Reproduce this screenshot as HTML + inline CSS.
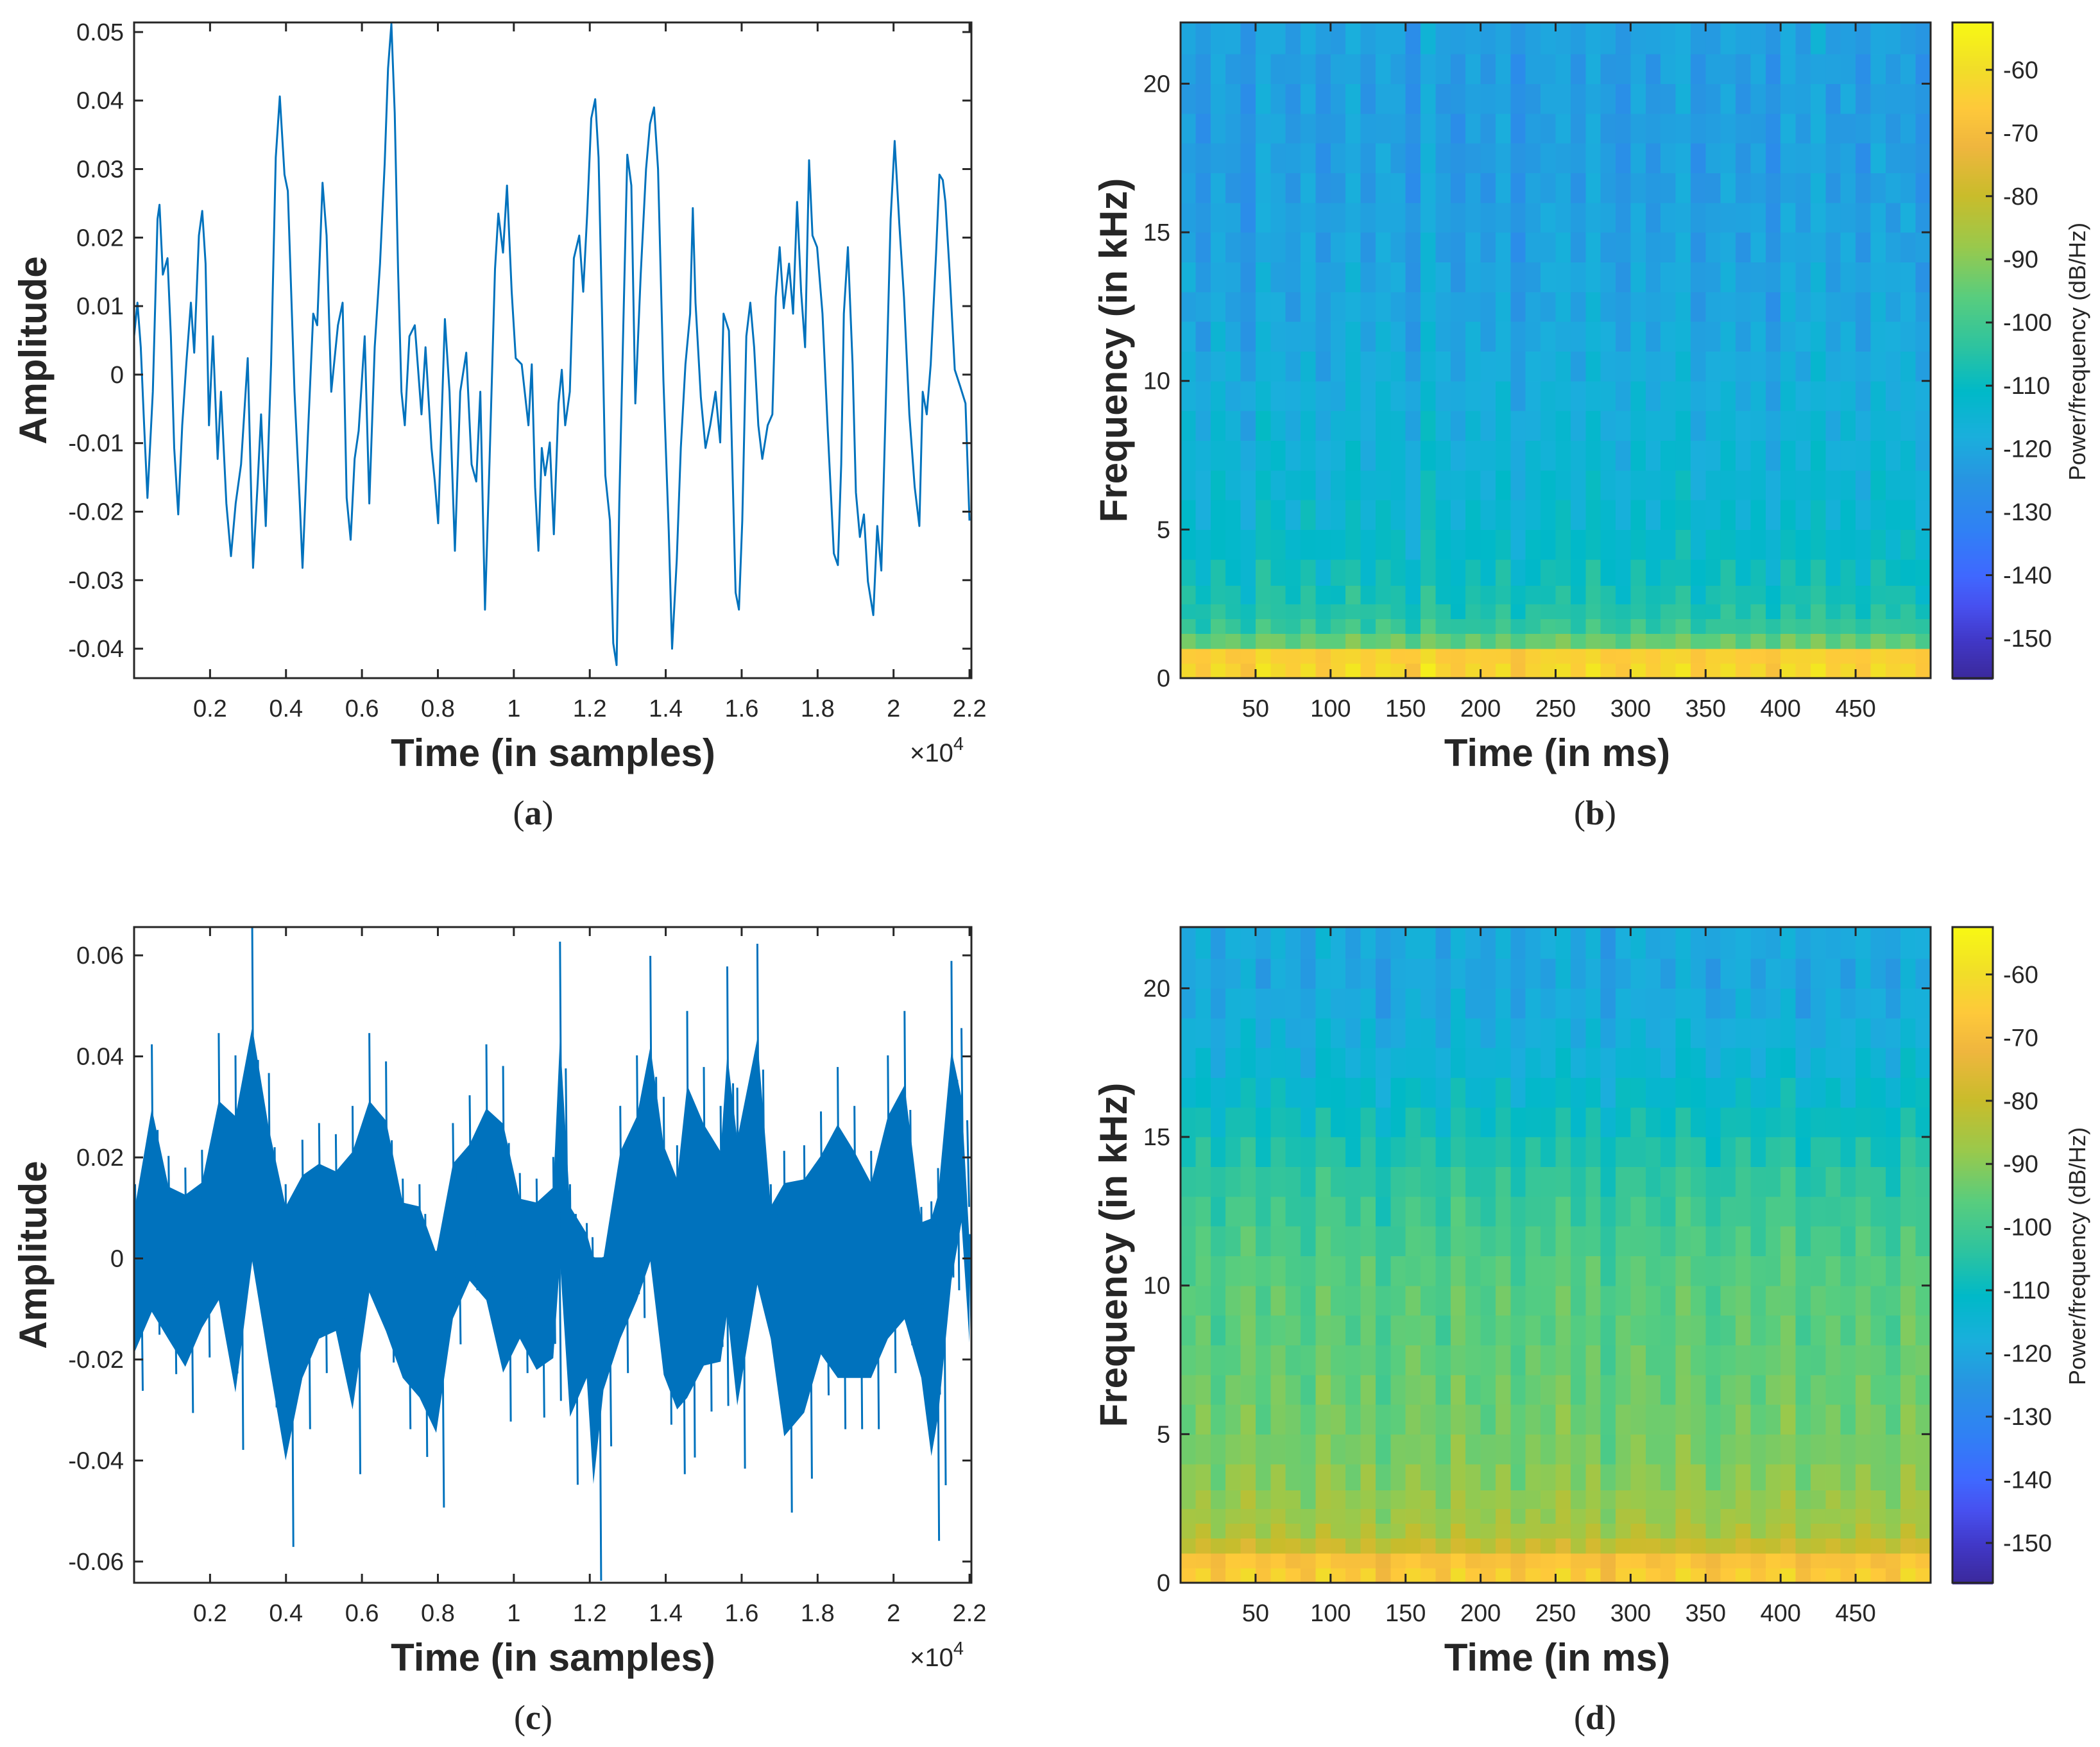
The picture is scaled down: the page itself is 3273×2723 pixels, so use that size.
<!DOCTYPE html>
<html><head><meta charset="utf-8">
<style>
html,body{margin:0;padding:0;background:#fff;}
svg{display:block;}
text{font-family:"Liberation Sans",sans-serif;fill:#262626;}
</style></head>
<body>
<svg id="fig" width="3273" height="2723" viewBox="0 0 3273 2723" xmlns="http://www.w3.org/2000/svg">
<rect x="0" y="0" width="3273" height="2723" fill="#fff"/>
</svg>
<script>
// ---------- Panel (a) waveform data ----------
const aSamples=[0,88,176,264,352,493,616,669,757,880,968,1056,1162,1267,1373,1496,1584,1707,1795,1883,1971,2077,2200,2288,2429,2552,2675,2816,2992,3133,3256,3344,3467,3608,3731,3837,3960,4048,4224,4365,4435,4576,4717,4822,4963,5069,5192,5368,5491,5597,5702,5808,5914,6072,6195,6336,6477,6600,6688,6776,6864,6952,7040,7128,7251,7392,7568,7674,7832,7920,8008,8184,8307,8448,8589,8747,8888,9011,9117,9240,9363,9504,9592,9715,9821,9944,10050,10208,10384,10472,10560,10648,10736,10824,10947,11053,11176,11264,11352,11475,11581,11722,11827,11933,12038,12144,12232,12320,12408,12531,12619,12707,12778,12883,12989,13094,13200,13341,13482,13587,13693,13798,13939,14080,14168,14291,14397,14520,14643,14714,14784,14925,15048,15171,15312,15435,15523,15664,15770,15840,15928,16016,16122,16227,16328,16438,16544,16685,16808,16896,17002,17107,17248,17354,17459,17565,17670,17776,17864,17987,18128,18269,18427,18533,18621,18691,18797,18920,19008,19114,19219,19325,19466,19571,19677,19800,19923,20029,20152,20275,20416,20557,20680,20768,20874,20979,21120,21208,21296,21366,21472,21613,21754,21894,22000];
const aAmpMilli=[5.6,10.5,4.0,-7.3,-18.0,-2.5,22.7,24.8,14.6,17.0,5.6,-10.7,-20.4,-7.4,1.5,10.5,3.2,20.3,23.9,16.2,-7.4,5.6,-12.3,-2.5,-18.8,-26.5,-18.8,-13.1,2.4,-28.2,-15.6,-5.8,-22.1,1.5,31.7,40.6,29.2,26.8,-2.5,-18.8,-28.2,-9.0,8.9,7.2,28.0,20.3,-2.5,7.2,10.5,-18.0,-24.1,-12.3,-8.2,5.6,-18.8,4.0,16.2,30.9,44.7,51.2,38.2,15.4,-2.5,-7.4,5.6,7.2,-5.8,4.0,-10.7,-15.6,-21.7,8.1,-2.5,-25.7,-2.5,3.2,-13.1,-15.6,-2.5,-34.3,-12.3,15.4,23.5,17.8,27.6,12.1,2.4,1.5,-7.4,1.5,-16.4,-25.7,-10.7,-14.7,-9.9,-23.3,-4.2,0.7,-7.4,-2.5,17.0,20.3,12.1,23.5,37.4,40.2,31.7,9.7,-14.7,-21.3,-39.2,-42.4,-18.8,7.2,32.1,27.6,-4.2,14.6,30.0,36.6,39.0,30.0,-0.9,-22.9,-40.0,-27.0,-10.7,1.5,8.9,24.3,10.5,-3.3,-10.7,-7.4,-2.5,-9.9,8.9,6.4,-16.4,-31.8,-34.3,-21.3,5.6,10.5,4.0,-7.4,-12.3,-7.4,-5.8,11.3,18.6,9.7,16.2,8.9,25.2,12.1,4.0,31.3,20.3,18.6,8.9,-8.2,-26.1,-27.8,-13.1,8.9,18.6,1.5,-17.2,-23.7,-20.4,-30.2,-35.1,-22.1,-28.6,-3.3,22.7,34.1,21.9,11.3,-5.8,-16.4,-22.1,-2.5,-5.8,1.5,17.8,29.2,28.4,25.2,15.4,0.7,-1.7,-4.2,-21.3];
const aYTicks=[-0.04,-0.03,-0.02,-0.01,0,0.01,0.02,0.03,0.04,0.05];
const aYTickLabels=["-0.04","-0.03","-0.02","-0.01","0","0.01","0.02","0.03","0.04","0.05"];
// ---------- Panel (c) waveform data (upper/lower envelope) ----------
const cSamples=[26,467,907,1348,1788,2229,2669,3110,3550,3991,4432,4872,5313,5753,6194,6634,7075,7515,7956,8396,8837,9277,9718,10158,10599,11039,11216,11480,11920,12097,12361,12802,13242,13595,13947,14299,14564,15004,15445,15621,15885,16414,16766,17119,17647,18088,18528,18969,19409,19850,20290,20731,20995,21171,21524,21788,21999];
const cUpperMilli=[14.7,42.4,20.3,18.0,21.5,44.6,40.2,65.5,36.7,14.7,23.5,26.8,24.6,30.2,44.6,39.0,15.8,14.7,1.5,26.8,32.3,42.4,38.1,16.9,15.8,20.1,62.7,14.7,7.0,0.3,0.3,30.2,40.2,59.9,32.0,22.4,49.0,37.9,30.2,57.8,33.8,62.3,14.7,21.3,22.4,29.1,37.9,30.2,21.3,40.2,49.0,10.2,11.3,17.9,58.9,45.6,4.8];
const cLowerMilli=[-26.2,-15.1,-22.9,-30.6,-19.6,-11.8,-37.9,-0.8,-29.5,-57.1,-33.8,-22.7,-20.5,-42.7,-9.6,-20.6,-33.8,-39.3,-49.3,-17.0,-6.3,-11.8,-32.3,-22.7,-31.5,-28.2,-0.8,-44.8,-33.8,-63.8,-37.2,-22.7,-11.8,-0.8,-32.9,-42.7,-39.4,-30.3,-29.2,-15.1,-41.6,-7.4,-22.7,-50.3,-43.6,-27.1,-33.8,-33.8,-33.8,-22.7,-17.2,-33.8,-55.9,-44.9,-6.3,10.2,-23.8];
const cYTicks=[-0.06,-0.04,-0.02,0,0.02,0.04,0.06];
const cYTickLabels=["-0.06","-0.04","-0.02","0","0.02","0.04","0.06"];
const sampleTicks=[2000,4000,6000,8000,10000,12000,14000,16000,18000,20000,22000];
const sampleTickLabels=["0.2","0.4","0.6","0.8","1","1.2","1.4","1.6","1.8","2","2.2"];
// ---------- Spectrogram data ----------
const specFreqsKHz=[0.25,0.75,1.25,1.75,2.25,2.75,3.5,4.5,5.5,6.5,7.5,8.5,9.5,10.5,11.5,12.5,13.5,14.5,15.5,16.5,17.5,18.5,19.5,20.5,21.5];
const specProfileB=[-63,-65,-95,-103,-106,-108,-110,-112,-114,-115,-116,-117,-118,-119,-120,-121,-121,-122,-122,-123,-123,-123,-123,-123,-122];
const specProfileD=[-66,-69,-81,-86,-88,-89,-91,-93,-94,-95,-96,-97,-97,-98,-100,-102,-104,-107,-110,-113,-116,-118,-120,-121,-120];
const timeOffB=[1,-2,2,0,-3,3,1,-1,2,-2,0,3,-1,2,1,-3,4,0,-2,1,-1,2,-3,0,1,2,-1,3,0,-2,2,-1,1,3,-2,0,2,-1,1,-3,2,0,3,-1,1,-2,2,0,1,-2];
const timeOffD=[0,2,-2,1,3,-1,2,0,-2,3,1,-1,2,-3,0,2,1,-2,3,0,-1,2,-2,1,0,3,-1,2,-3,1,2,0,-1,3,1,-2,0,2,-1,1,3,-2,0,1,-1,2,0,-2,3,1];
const specTimeTicks=[50,100,150,200,250,300,350,400,450];
const specFreqTicks=[0,5,10,15,20];
const cbarTicks=[-150,-140,-130,-120,-110,-100,-90,-80,-70,-60];

const NS="http://www.w3.org/2000/svg";
const svg=document.getElementById('fig');
function el(tag,attrs,parent){const e=document.createElementNS(NS,tag);for(const k in attrs)e.setAttribute(k,attrs[k]);(parent||svg).appendChild(e);return e;}
const AX="#262626";

const cmap=[[-156,[59,42,158]],[-150,[65,57,201]],[-145,[71,80,239]],[-140,[63,104,255]],[-133,[48,128,245]],[-125,[40,148,226]],[-118,[26,175,220]],[-111,[0,185,200]],[-104,[44,195,160]],[-96,[88,205,126]],[-88,[153,201,76]],[-80,[201,188,43]],[-72,[240,182,62]],[-66,[254,201,58]],[-60,[241,221,41]],[-52,[248,250,18]]];
function color(v){if(v<=cmap[0][0])return 'rgb('+cmap[0][1]+')';for(let i=1;i<cmap.length;i++){if(v<=cmap[i][0]){const a=cmap[i-1],b=cmap[i];const t=(v-a[0])/(b[0]-a[0]);const c=a[1].map((x,j)=>Math.round(x+(b[1][j]-x)*t));return 'rgb('+c.join(',')+')';}}return 'rgb('+cmap[cmap.length-1][1]+')';}

function waveformPanel(key,top,ymin,ymax,yTicks,yLabels){
  const L=209,R=1514,T=top,B=top+1022;
  const g=el('g',{});
  
  
  const sx=s=>L+(s/22050)*(R-L);
  const sy=v=>B-(v-ymin)/(ymax-ymin)*(B-T);
  const clip=el('clipPath',{id:'clip'+key},g);
  el('rect',{x:L,y:T,width:R-L,height:B-T},clip);
  const plot=el('g',{'clip-path':'url(#clip'+key+')'},g);
  if(key==='a'){
    let d='';
    for(let i=0;i<Math.min(aSamples.length,aAmpMilli.length);i++){d+=(i?'L':'M')+sx(aSamples[i]).toFixed(1)+' '+sy(aAmpMilli[i]/1000).toFixed(1);}
    const p=el('path',{d:d,fill:'none',stroke:'#0072BD','stroke-width':3,'stroke-linejoin':'round'},plot);
    
    
  } else {
    let up='',lo='';const n=Math.min(cSamples.length,cUpperMilli.length,cLowerMilli.length);
    for(let i=0;i<n;i++){up+=(i?'L':'M')+sx(cSamples[i]).toFixed(1)+' '+sy(cUpperMilli[i]/1000*0.7).toFixed(1);}
    for(let i=n-1;i>=0;i--){lo+='L'+sx(cSamples[i]).toFixed(1)+' '+sy(cLowerMilli[i]/1000*0.7).toFixed(1);}
    const f=el('path',{d:up+lo+'Z',fill:'#0072BD'},plot);
    
    
    let z='';
    for(let i=0;i<n;i++){
      const x=sx(cSamples[i]);
      z+='M'+x.toFixed(1)+' '+sy(cUpperMilli[i]/1000).toFixed(1)+'L'+(x+3).toFixed(1)+' '+sy(cLowerMilli[i]/1000*0.6).toFixed(1);
      z+='M'+(x+9).toFixed(1)+' '+sy(cUpperMilli[i]/1000*0.6).toFixed(1)+'L'+(x+12).toFixed(1)+' '+sy(cLowerMilli[i]/1000).toFixed(1);
    }
    const p=el('path',{d:z,fill:'none',stroke:'#0072BD','stroke-width':3},plot);
    
    
  }
  const box=el('rect',{x:L,y:T,width:R-L,height:B-T,fill:'none',stroke:AX,'stroke-width':3},g);
  
  
  yTicks.forEach((v,i)=>{const y=sy(v);
    el('line',{x1:L,x2:L+14,y1:y,y2:y,stroke:AX,'stroke-width':3},g);
    el('line',{x1:R,x2:R-14,y1:y,y2:y,stroke:AX,'stroke-width':3},g);
    const t=el('text',{x:L-16,y:y+13,'text-anchor':'end','font-size':38},g);t.textContent=yLabels[i];
    
    
  });
  sampleTicks.forEach((v,i)=>{const x=sx(v);
    el('line',{x1:x,x2:x,y1:B,y2:B-14,stroke:AX,'stroke-width':3},g);
    el('line',{x1:x,x2:x,y1:T,y2:T+14,stroke:AX,'stroke-width':3},g);
    const t=el('text',{x:x,y:B+60,'text-anchor':'middle','font-size':38},g);t.textContent=sampleTickLabels[i];
    
    
  });
  const xl=el('text',{x:862,y:B+137,'text-anchor':'middle','font-size':60,'font-weight':'bold'},g);xl.textContent='Time (in samples)';
  
  
  const ex=el('text',{x:1418,y:B+130,'font-size':40},g);ex.innerHTML='×10<tspan dy="-18" font-size="29">4</tspan>';
  
  
  const yl=el('text',{x:0,y:0,'text-anchor':'middle','font-size':60,'font-weight':'bold',transform:'translate(72,'+(T+511)+') rotate(-90)'},g);yl.textContent='Amplitude';
  
  
  const cap=el('text',{x:831,y:T+1250,'text-anchor':'middle','font-size':54,style:'font-family:"Liberation Serif",serif'},g);
  cap.innerHTML='(<tspan font-weight="bold">'+key+'</tspan>)';
  
  
}

function specPanel(key,top,profile,timeOff){
  const L=1840,R=3009,T=top,B=top+1022;
  const g=el('g',{});
  
  
  const fmax=22.06,tmax=500;
  const sx=t=>L+t/tmax*(R-L);
  const sy=f=>B-f/fmax*(B-T);
  const n=timeOff.length;
  const hm=el('g',{'shape-rendering':'crispEdges'},g);
  
  
  for(let fi=0;fi<specFreqsKHz.length;fi++){
    const f0=fi===0?0:(specFreqsKHz[fi-1]+specFreqsKHz[fi])/2;
    const f1=fi===specFreqsKHz.length-1?fmax:(specFreqsKHz[fi]+specFreqsKHz[fi+1])/2;
    for(let ti=0;ti<n;ti++){
      const t0=ti*tmax/n,t1=(ti+1)*tmax/n;
      const v=profile[fi]+timeOff[ti]*(fi<2?1.2:1.3)+timeOff[(ti+fi)%n]*0.7;
      const r=el('rect',{x:sx(t0).toFixed(1),y:sy(f1).toFixed(1),width:(sx(t1)-sx(t0)+0.6).toFixed(1),height:(sy(f0)-sy(f1)+0.6).toFixed(1),fill:color(v)},hm);
      
      
    }
  }
  const box=el('rect',{x:L,y:T,width:R-L,height:B-T,fill:'none',stroke:AX,'stroke-width':3},g);
  
  
  specFreqTicks.forEach(v=>{const y=sy(v);
    el('line',{x1:L,x2:L+14,y1:y,y2:y,stroke:AX,'stroke-width':3},g);
    el('line',{x1:R,x2:R-14,y1:y,y2:y,stroke:AX,'stroke-width':3},g);
    const t=el('text',{x:L-16,y:y+13,'text-anchor':'end','font-size':38},g);t.textContent=String(v);
    
    
  });
  specTimeTicks.forEach(v=>{const x=sx(v);
    el('line',{x1:x,x2:x,y1:B,y2:B-14,stroke:AX,'stroke-width':3},g);
    el('line',{x1:x,x2:x,y1:T,y2:T+14,stroke:AX,'stroke-width':3},g);
    const t=el('text',{x:x,y:B+60,'text-anchor':'middle','font-size':38},g);t.textContent=String(v);
    
    
  });
  const xl=el('text',{x:2427,y:B+137,'text-anchor':'middle','font-size':60,'font-weight':'bold'},g);xl.textContent='Time (in ms)';
  
  
  const yl=el('text',{x:0,y:0,'text-anchor':'middle','font-size':60,'font-weight':'bold',transform:'translate(1756,'+(T+511)+') rotate(-90)'},g);yl.textContent='Frequency (in kHz)';
  
  
  const CL=3043,CR=3106,cmin=-156.3,cmaxv=-52.5;
  const cy=v=>B-(v-cmin)/(cmaxv-cmin)*(B-T);
  const cb=el('g',{'shape-rendering':'crispEdges'},g);
  
  
  for(let y=T;y<B;y+=4){const v=cmin+(B-y-2)/(B-T)*(cmaxv-cmin);el('rect',{x:CL,y:y,width:CR-CL,height:4.5,fill:color(v)},cb);}
  el('rect',{x:CL,y:T,width:CR-CL,height:B-T,fill:'none',stroke:AX,'stroke-width':3},g);
  cbarTicks.forEach(v=>{const y=cy(v);
    el('line',{x1:CR,x2:CR-11,y1:y,y2:y,stroke:AX,'stroke-width':3},g);
    const t=el('text',{x:3122,y:y+13,'font-size':38},g);t.textContent=String(v);
    
    
  });
  const cl=el('text',{x:0,y:0,'text-anchor':'middle','font-size':36,transform:'translate(3250,'+(T+513)+') rotate(-90)'},g);cl.textContent='Power/frequency (dB/Hz)';
  
  
  const cap=el('text',{x:2486,y:T+1250,'text-anchor':'middle','font-size':54,style:'font-family:"Liberation Serif",serif'},g);
  cap.innerHTML='(<tspan font-weight="bold">'+key+'</tspan>)';
  
  
}

waveformPanel('a',35,-0.0443,0.0514,aYTicks,aYTickLabels);
specPanel('b',35,specProfileB,timeOffB);
waveformPanel('c',1445,-0.0642,0.0656,cYTicks,cYTickLabels);
specPanel('d',1445,specProfileD,timeOffD);
</script>
</body></html>
